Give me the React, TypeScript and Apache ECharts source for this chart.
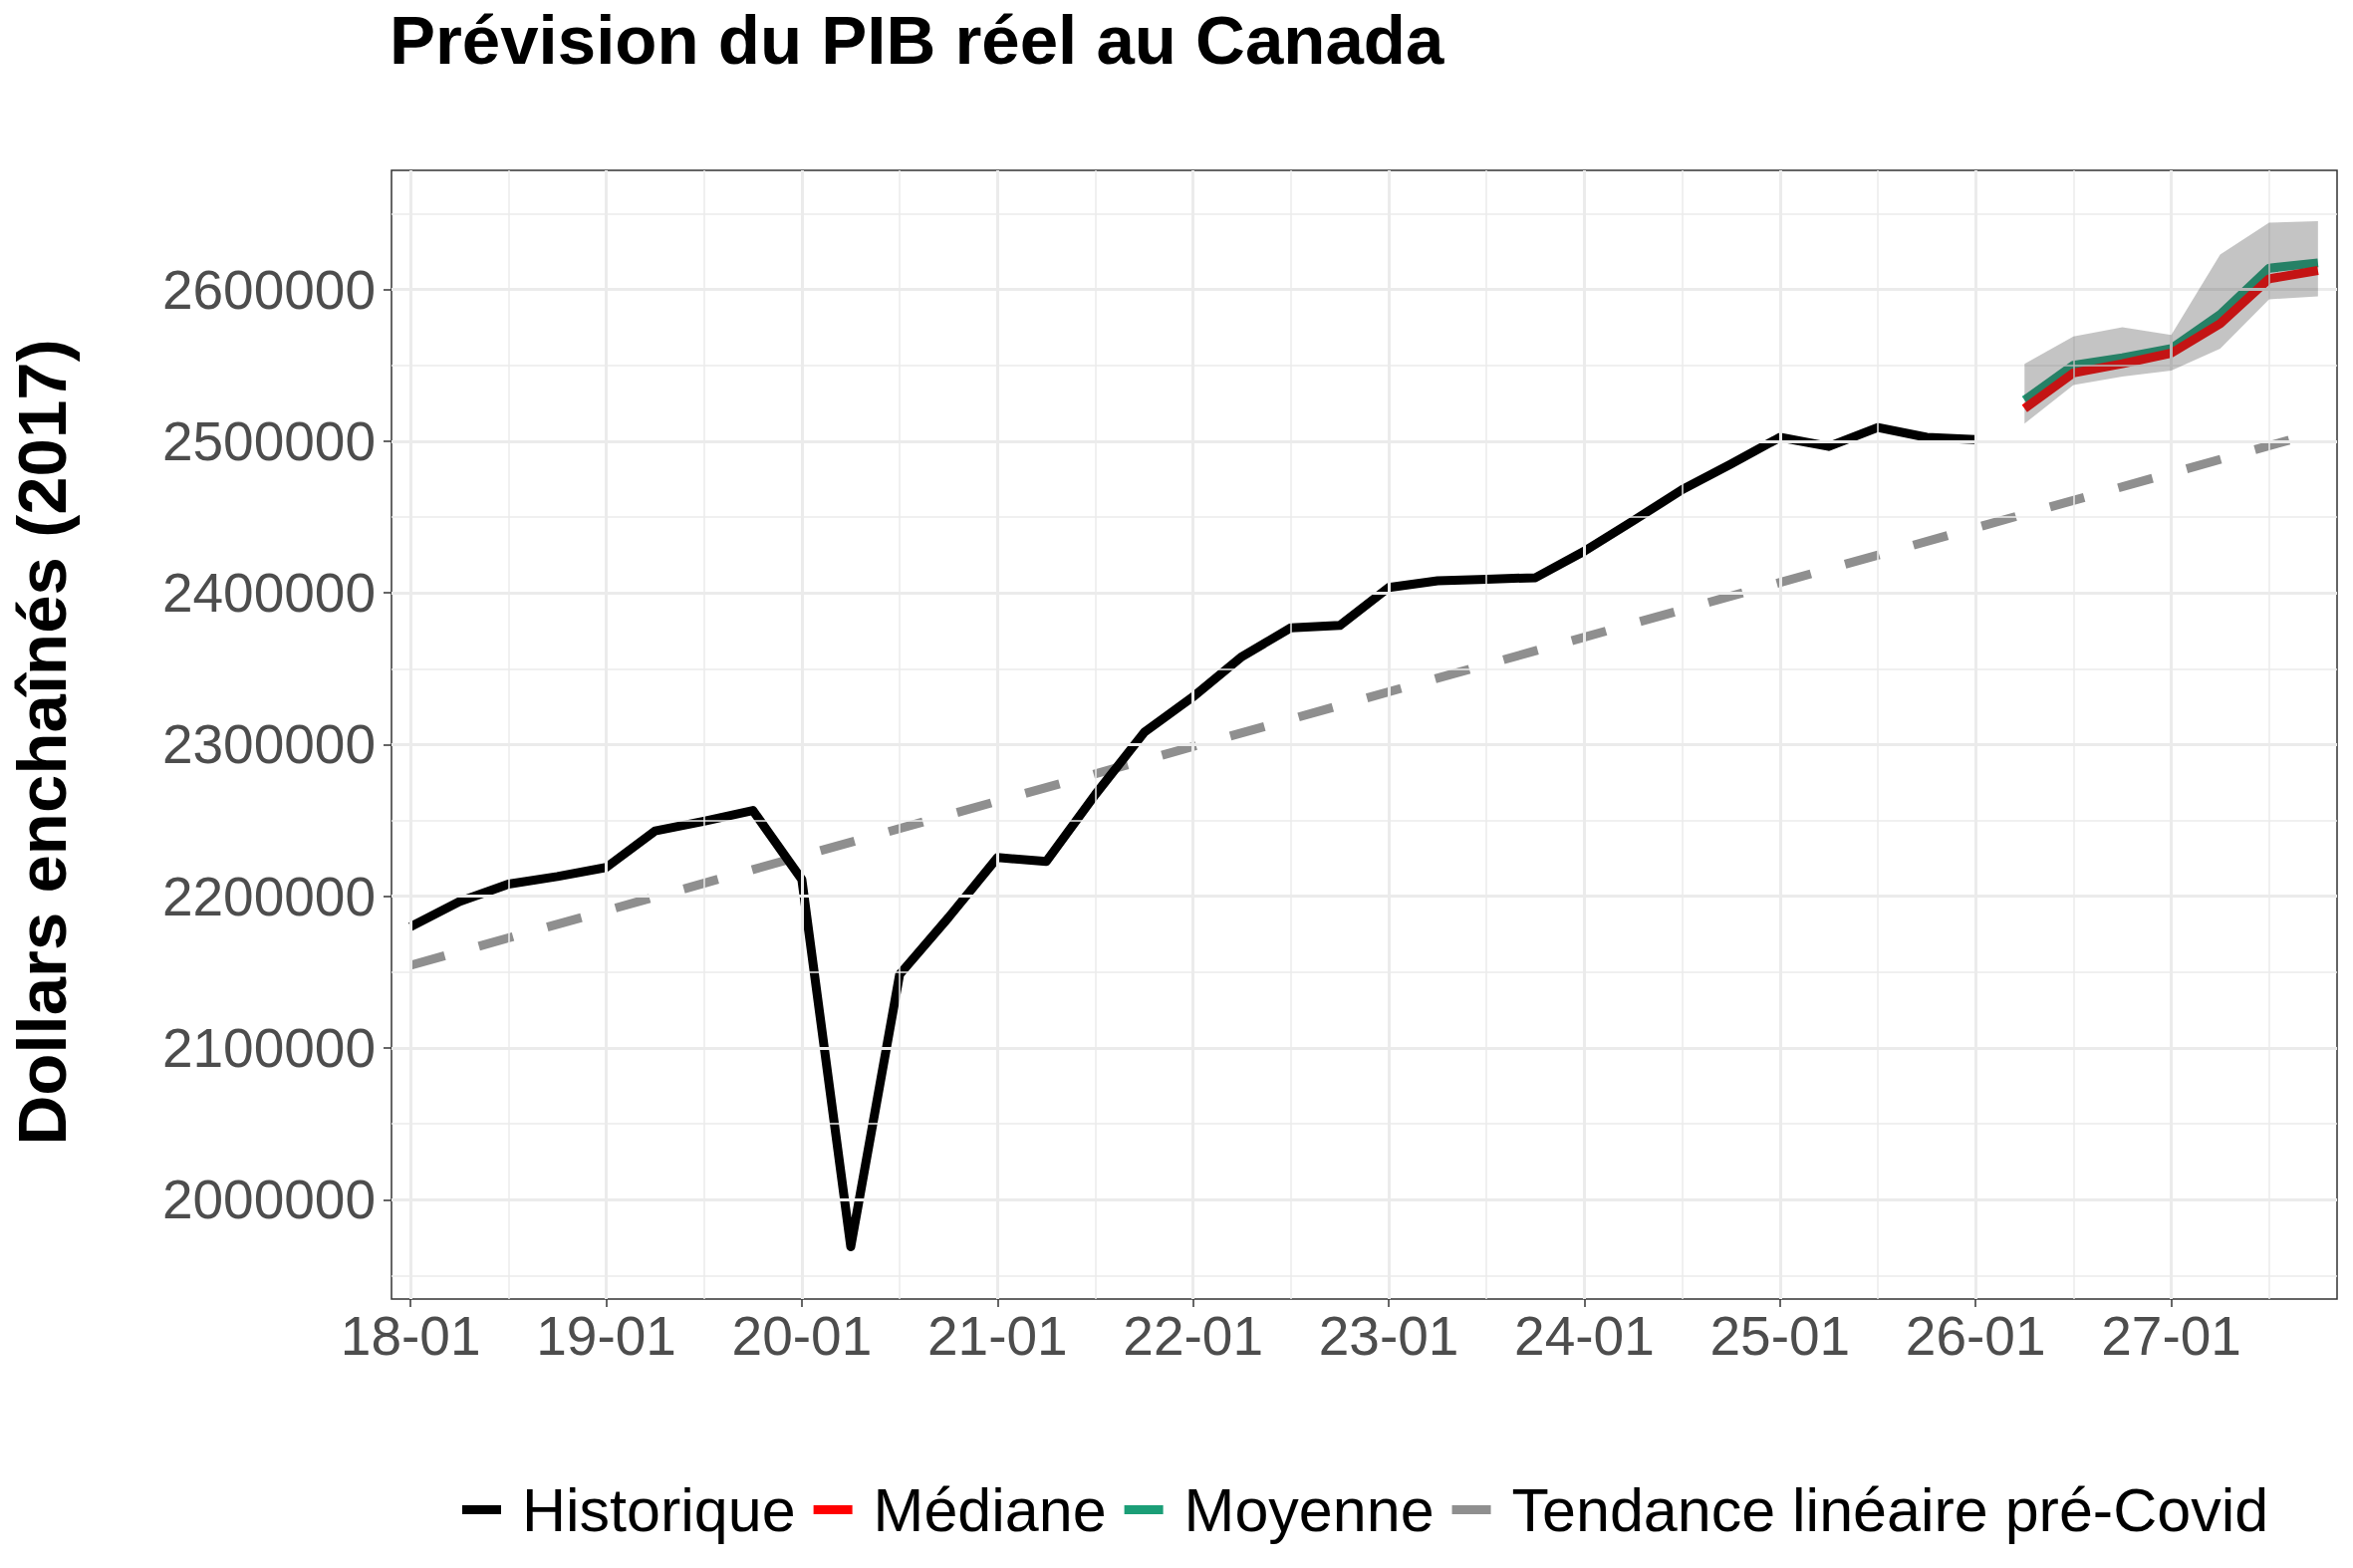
import React, { useEffect, useRef } from "react";
import * as echarts from "echarts";

// ---- Data ----
const histStartYear = 2018; // first quarter: 2018-01
const histValues = [
  2180000, 2196500, 2208000, 2213000, 2219000, 2243000, 2249500, 2256500,
  2211000, 1969000, 2148500, 2186000, 2225500, 2223000, 2267000, 2308000,
  2331500, 2358000, 2377000, 2378500, 2403500, 2408000, 2409000, 2410000,
  2427500, 2447500, 2468000, 2485000, 2502500, 2496500, 2509000, 2502500,
  2501000,
];
const forecastStart = 2026.25; // 2026-04
const medianValues = [2521500, 2545000, 2551000, 2558000, 2577500, 2607000, 2612500];
const meanValues = [2527000, 2550000, 2555000, 2561000, 2583500, 2614000, 2617500];
const ribbonLow = [2511500, 2537000, 2542500, 2546500, 2561000, 2593500, 2595500];
const ribbonHigh = [2551000, 2569000, 2575000, 2570000, 2623000, 2644000, 2645000];
const trendX = [2018.0, 2027.75];
const trendValues = [2154500, 2506000];

const xTickValues = [2018, 2019, 2020, 2021, 2022, 2023, 2024, 2025, 2026, 2027];
const xTickLabels = ["18-01", "19-01", "20-01", "21-01", "22-01", "23-01", "24-01", "25-01", "26-01", "27-01"];
const xMinorValues = [2018.5, 2019.5, 2020.5, 2021.5, 2022.5, 2023.5, 2024.5, 2025.5, 2026.5, 2027.5];
const yTickValues = [2000000, 2100000, 2200000, 2300000, 2400000, 2500000, 2600000];
const yMinorValues = [1950000, 2050000, 2150000, 2250000, 2350000, 2450000, 2550000, 2650000];

const seriesNames = ["Historique", "Médiane", "Moyenne", "Tendance linéaire pré-Covid"];
const seriesColors = ["#000000", "#FF0000", "#1B9E77", "#8F8F8F"];

const FONT = "Liberation Sans";

const histX = histValues.map((_, i) => histStartYear + i * 0.25);
const fcX = medianValues.map((_, i) => forecastStart + i * 0.25);

export default function App() {
  const ref = useRef<HTMLDivElement>(null);
  useEffect(() => {
    if (!ref.current) return;
    const chart = echarts.init(ref.current, null, { renderer: "svg" });
    const gridLines: any[] = [];
    xTickValues.forEach((v) => gridLines.push({ xAxis: v, lineStyle: { width: 3 } }));
    xMinorValues.forEach((v) => gridLines.push({ xAxis: v, lineStyle: { width: 1.5 } }));
    yTickValues.forEach((v) => gridLines.push({ yAxis: v, lineStyle: { width: 3 } }));
    yMinorValues.forEach((v) => gridLines.push({ yAxis: v, lineStyle: { width: 1.5 } }));

    const option: any = {
      animation: false,
      backgroundColor: "#ffffff",
      textStyle: { fontFamily: FONT },
      title: {
        text: "Prévision du PIB réel au Canada",
        left: 391,
        top: 6,
        padding: 0,
        textStyle: { fontSize: 69, fontWeight: "bold", color: "#000000", fontFamily: FONT },
      },
      graphic: [
        {
          type: "text",
          x: 42,
          y: 745,
          rotation: Math.PI / 2,
          style: {
            text: "Dollars enchaînés (2017)",
            font: `bold 69px "${FONT}"`,
            fill: "#000000",
            align: "center",
            verticalAlign: "middle",
          },
        },
      ],
      legend: {
        left: 464,
        top: 1485,
        padding: 0,
        itemWidth: 39,
        itemHeight: 9,
        itemGap: 18,
        icon: "rect",
        data: seriesNames,
        textStyle: { fontSize: 61, color: "#000000", fontFamily: FONT, padding: [0, 0, 0, 16] },
        itemStyle: { borderWidth: 0 },
      },
      grid: {
        left: 393,
        top: 171,
        width: 1953,
        height: 1133,
        show: true,
        borderColor: "#333333",
        borderWidth: 1.5,
        backgroundColor: "transparent",
        containLabel: false,
      },
      xAxis: {
        type: "value",
        min: 2017.9025,
        max: 2027.8475,
        axisLine: { show: false },
        splitLine: { show: false },
        axisTick: { show: true, length: 8, lineStyle: { color: "#333333", width: 1.5 }, customValues: xTickValues },
        axisLabel: {
          customValues: xTickValues,
          margin: 9,
          fontSize: 55,
          color: "#4D4D4D",
          fontFamily: FONT,
          formatter: (v: number) => {
            const idx = xTickValues.indexOf(Math.round(v));
            return idx >= 0 ? xTickLabels[idx] : "";
          },
        },
      },
      yAxis: {
        type: "value",
        min: 1934500,
        max: 2678500,
        axisLine: { show: false },
        splitLine: { show: false },
        axisTick: { show: true, length: 8, lineStyle: { color: "#333333", width: 1.5 }, customValues: yTickValues },
        axisLabel: {
          customValues: yTickValues,
          margin: 16,
          fontSize: 55,
          color: "#4D4D4D",
          fontFamily: FONT,
          formatter: (v: number) => String(v),
        },
      },
      series: [
        {
          name: "grid-helper",
          type: "line",
          z: 1,
          silent: true,
          data: histX.map((x, i) => [x, histValues[i]]),
          showSymbol: false,
          lineStyle: { opacity: 0 },
          markLine: {
            silent: true,
            symbol: "none",
            label: { show: false },
            lineStyle: { color: "#EBEBEB", type: "solid" },
            data: gridLines,
          },
        },
        {
          name: seriesNames[3],
          type: "line",
          z: 2,
          color: seriesColors[3],
          showSymbol: false,
          symbol: "none",
          data: trendX.map((x, i) => [x, trendValues[i]]),
          lineStyle: { color: seriesColors[3], width: 9, type: [35.6, 35.6], cap: "butt" },
        },
        {
          name: seriesNames[0],
          type: "line",
          z: 3,
          color: seriesColors[0],
          showSymbol: false,
          symbol: "none",
          data: histX.map((x, i) => [x, histValues[i]]),
          lineStyle: { color: seriesColors[0], width: 9, join: "round", cap: "butt" },
        },
        {
          name: seriesNames[2],
          type: "line",
          z: 3,
          color: seriesColors[2],
          showSymbol: false,
          symbol: "none",
          data: fcX.map((x, i) => [x, meanValues[i]]),
          lineStyle: { color: seriesColors[2], width: 9, join: "round", cap: "butt" },
        },
        {
          name: seriesNames[1],
          type: "line",
          z: 4,
          color: seriesColors[1],
          showSymbol: false,
          symbol: "none",
          data: fcX.map((x, i) => [x, medianValues[i]]),
          lineStyle: { color: seriesColors[1], width: 9, join: "round", cap: "butt" },
        },
        {
          name: "ribbon",
          type: "custom",
          z: 5,
          silent: true,
          data: fcX.map((x, i) => [x, ribbonLow[i], ribbonHigh[i]]),
          encode: { x: 0, y: [1, 2] },
          renderItem: (params: any, api: any) => {
            if (params.dataIndex !== 0) return null;
            const top = fcX.map((x, i) => api.coord([x, ribbonHigh[i]]));
            const bot = fcX.map((x, i) => api.coord([x, ribbonLow[i]])).reverse();
            return {
              type: "polygon",
              shape: { points: top.concat(bot) },
              style: { fill: "rgba(64,64,64,0.31)" },
            };
          },
        },
      ],
    };
    chart.setOption(option);
    return () => chart.dispose();
  }, []);
  return (
    <div
      ref={ref}
      style={{ position: "fixed", left: 0, top: 0, width: 2362, height: 1574, background: "#fff" }}
    />
  );
}
